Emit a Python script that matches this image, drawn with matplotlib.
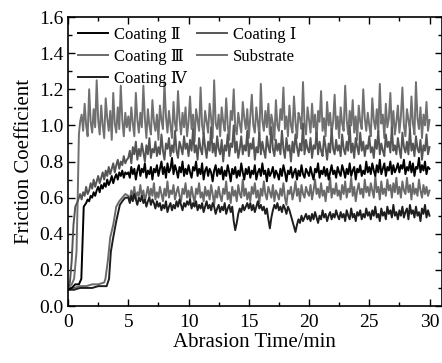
import numpy as np
import matplotlib
matplotlib.use("Agg")
import matplotlib.pyplot as plt
from matplotlib.ticker import MultipleLocator, FormatStrFormatter

plt.rcParams['font.family'] = ['Liberation Serif', 'DejaVu Serif', 'DejaVu Sans']

# ---------------- data ----------------
STEP = 0.125
t_steady = np.arange(5.0, 30.0001, STEP)          # 201 samples, 5..30 min

# Substrate
sub_t_trans = [0, 0.3, 0.5, 0.7, 0.8, 0.9, 1.0]
sub_y_trans = [0.10, 0.12, 0.15, 0.30, 0.60, 0.95, 1.02]
sub_dense_start = 1.125
sub_y_dense = [1.06, 0.97, 1.12, 1.00, 0.94, 1.20, 1.02, 0.96, 1.09, 0.99,
               1.25, 1.03, 0.95, 1.11, 1.00, 0.93, 1.15, 1.04, 0.97, 1.08,
               0.92, 1.18, 1.01, 0.96, 1.10, 0.98, 1.22, 1.03, 0.94, 1.07, 0.99]
sub_y_steady = [
    1.05, 0.97, 1.10, 1.01, 0.94, 1.18, 1.03, 0.96, 1.07, 0.99, 1.22, 1.04, 0.93, 1.09, 1.00, 0.95, 1.14, 1.02, 0.97, 1.06,
    0.92, 1.11, 1.03, 0.98, 1.24, 1.05, 0.96, 1.08, 1.00, 0.93, 1.13, 1.01, 0.97, 1.19, 1.04, 0.95, 1.07, 0.99, 1.10, 0.94,
    1.02, 1.16, 0.98, 1.06, 0.91, 1.09, 1.03, 0.97, 1.21, 1.00, 0.95, 1.08, 1.02, 0.96, 1.12, 1.04, 0.93, 1.25, 1.01, 0.98,
    1.06, 0.94, 1.10, 1.02, 0.97, 1.15, 1.00, 0.92, 1.08, 1.03, 1.20, 0.99, 0.95, 1.07, 1.01, 0.96, 1.13, 1.04, 0.98, 1.09,
    0.93, 1.05, 1.17, 1.00, 0.96, 1.10, 1.02, 0.94, 1.23, 1.03, 0.97, 1.08, 0.99, 1.12, 0.95, 1.06, 1.01, 0.92, 1.14, 1.00,
    0.97, 1.09, 1.03, 1.21, 0.98, 1.05, 0.94, 1.11, 1.00, 0.96, 1.16, 1.02, 0.93, 1.07, 1.04, 0.98, 1.24, 1.01, 0.95, 1.10,
    1.03, 0.96, 1.12, 0.99, 1.06, 0.91, 1.08, 1.02, 1.19, 0.97, 1.04, 0.94, 1.13, 1.00, 1.07, 0.96, 1.02, 1.17, 0.98, 1.05,
    0.93, 1.10, 1.01, 0.97, 1.22, 1.03, 0.95, 1.08, 1.00, 1.14, 0.96, 1.05, 0.92, 1.11, 1.02, 0.98, 1.20, 1.04, 0.97, 1.07,
    1.00, 0.94, 1.15, 1.03, 0.98, 1.09, 0.96, 1.23, 1.01, 1.06, 0.93, 1.12, 0.99, 1.04, 1.18, 0.97, 1.08, 0.95, 1.02, 1.11,
    0.96, 1.05, 1.21, 1.00, 0.94, 1.09, 1.03, 0.97, 1.16, 1.01, 0.95, 1.24, 1.04, 0.98, 1.10, 0.93, 1.06, 1.00, 1.13, 0.97,
    1.03]

# Coating I
c1_t_trans = [0, 0.15, 0.3, 0.45, 0.6, 0.8, 1.0]
c1_y_trans = [0.10, 0.13, 0.25, 0.45, 0.55, 0.58, 0.62]
c1_dense_start = 1.125
c1_y_dense = [0.59, 0.63, 0.61, 0.66, 0.62, 0.64, 0.68, 0.65, 0.70, 0.66,
              0.69, 0.72, 0.68, 0.71, 0.74, 0.70, 0.75, 0.72, 0.77, 0.73,
              0.76, 0.79, 0.74, 0.78, 0.81, 0.76, 0.80, 0.78, 0.83, 0.79, 0.81]
c1_y_steady = [
    0.82, 0.86, 0.79, 0.88, 0.84, 0.91, 0.81, 0.87, 0.83, 0.90, 0.85, 0.80, 0.89, 0.84, 0.93, 0.82, 0.87, 0.85, 0.91, 0.83,
    0.88, 0.84, 0.95, 0.86, 0.81, 0.90, 0.87, 0.93, 0.83, 0.89, 0.85, 0.97, 0.86, 0.82, 0.91, 0.88, 0.84, 0.94, 0.87, 0.90,
    0.83, 0.92, 0.86, 0.98, 0.85, 0.89, 0.81, 0.93, 0.87, 0.84, 0.96, 0.88, 0.82, 0.91, 0.86, 0.99, 0.85, 0.90, 0.83, 0.94,
    0.87, 0.84, 0.92, 0.80, 0.89, 0.86, 0.95, 0.83, 0.90, 0.88, 1.00, 0.85, 0.91, 0.82, 0.87, 0.94, 0.84, 0.89, 0.86, 0.97,
    0.83, 0.90, 0.87, 0.93, 0.81, 0.88, 0.85, 0.96, 0.84, 0.91, 0.86, 0.82, 0.94, 0.88, 0.85, 0.99, 0.87, 0.83, 0.92, 0.86,
    0.90, 0.84, 0.97, 0.87, 0.82, 0.93, 0.86, 0.89, 0.80, 0.91, 0.85, 0.95, 0.88, 0.83, 0.90, 0.86, 1.01, 0.84, 0.92, 0.87,
    0.85, 0.93, 0.82, 0.89, 0.87, 0.96, 0.84, 0.91, 0.86, 0.83, 0.94, 0.88, 0.81, 0.90, 0.85, 0.98, 0.87, 0.84, 0.92, 0.86,
    0.89, 0.83, 0.95, 0.87, 0.84, 0.91, 0.86, 1.00, 0.85, 0.90, 0.82, 0.93, 0.88, 0.84, 0.96, 0.86, 0.91, 0.83, 0.89, 0.87,
    0.94, 0.85, 0.88, 0.82, 0.92, 0.87, 0.97, 0.84, 0.90, 0.86, 0.83, 0.95, 0.88, 0.91, 0.85, 0.99, 0.86, 0.89, 0.84, 0.93,
    0.87, 0.82, 0.96, 0.88, 0.85, 0.91, 0.84, 0.98, 0.86, 0.90, 0.83, 0.94, 0.87, 0.85, 0.92, 0.81, 0.89, 0.86, 0.95, 0.84,
    0.88]

# Coating II
c2_t_trans = [0, 0.3, 0.6, 0.9, 1.1, 1.2, 1.3, 1.4]
c2_y_trans = [0.09, 0.10, 0.12, 0.12, 0.15, 0.35, 0.55, 0.56]
c2_dense_start = 1.5
c2_y_dense = [0.57, 0.59, 0.58, 0.61, 0.60, 0.63, 0.61, 0.64, 0.66, 0.63,
              0.67, 0.65, 0.68, 0.66, 0.70, 0.67, 0.69, 0.72, 0.68, 0.71,
              0.73, 0.70, 0.74, 0.72, 0.75, 0.71, 0.74, 0.73]
c2_y_steady = [
    0.74, 0.71, 0.77, 0.73, 0.76, 0.70, 0.75, 0.78, 0.72, 0.76, 0.74, 0.79, 0.71, 0.75, 0.73, 0.77, 0.70, 0.76, 0.74, 0.78,
    0.72, 0.76, 0.80, 0.73, 0.77, 0.71, 0.79, 0.74, 0.76, 0.82, 0.73, 0.78, 0.75, 0.71, 0.77, 0.74, 0.80, 0.72, 0.76, 0.73,
    0.78, 0.74, 0.71, 0.77, 0.75, 0.80, 0.72, 0.76, 0.73, 0.79, 0.70, 0.75, 0.77, 0.72, 0.76, 0.74, 0.69, 0.75, 0.78, 0.72,
    0.76, 0.73, 0.77, 0.70, 0.75, 0.72, 0.78, 0.74, 0.69, 0.76, 0.73, 0.77, 0.71, 0.75, 0.72, 0.79, 0.74, 0.70, 0.76, 0.73,
    0.77, 0.71, 0.75, 0.73, 0.78, 0.70, 0.74, 0.76, 0.72, 0.79, 0.73, 0.75, 0.69, 0.76, 0.72, 0.74, 0.77, 0.71, 0.75, 0.73,
    0.70, 0.76, 0.72, 0.78, 0.74, 0.69, 0.75, 0.73, 0.77, 0.71, 0.74, 0.76, 0.70, 0.75, 0.72, 0.78, 0.73, 0.71, 0.76, 0.74,
    0.72, 0.77, 0.73, 0.70, 0.76, 0.74, 0.79, 0.71, 0.75, 0.73, 0.77, 0.72, 0.76, 0.70, 0.74, 0.78, 0.73, 0.75, 0.71, 0.77,
    0.74, 0.72, 0.78, 0.75, 0.71, 0.76, 0.73, 0.79, 0.72, 0.75, 0.77, 0.70, 0.76, 0.74, 0.78, 0.72, 0.75, 0.73, 0.80, 0.74,
    0.77, 0.73, 0.79, 0.75, 0.72, 0.78, 0.74, 0.81, 0.73, 0.76, 0.79, 0.72, 0.77, 0.75, 0.80, 0.73, 0.78, 0.74, 0.76, 0.79,
    0.74, 0.78, 0.76, 0.81, 0.73, 0.77, 0.75, 0.80, 0.74, 0.79, 0.72, 0.77, 0.76, 0.82, 0.74, 0.78, 0.75, 0.80, 0.73, 0.77,
    0.76]

# Coating III
c3_t_trans = [0, 0.5, 1.0, 1.5, 2.0, 2.5, 3.0, 3.1, 3.3, 3.5, 3.75, 4.0, 4.25, 4.5, 4.75]
c3_y_trans = [0.10, 0.10, 0.11, 0.11, 0.12, 0.12, 0.13, 0.15, 0.25, 0.38, 0.45, 0.55, 0.58,
              0.60, 0.62]
c3_y_steady = [
    0.61, 0.58, 0.64, 0.60, 0.66, 0.59, 0.63, 0.61, 0.67, 0.60, 0.64, 0.58, 0.62, 0.66, 0.60, 0.65, 0.61, 0.68, 0.59, 0.63,
    0.60, 0.66, 0.62, 0.58, 0.65, 0.61, 0.69, 0.60, 0.64, 0.62, 0.67, 0.59, 0.63, 0.66, 0.61, 0.58, 0.65, 0.62, 0.68, 0.60,
    0.64, 0.59, 0.66, 0.61, 0.57, 0.65, 0.62, 0.68, 0.60, 0.63, 0.58, 0.66, 0.61, 0.64, 0.59, 0.67, 0.62, 0.56, 0.64, 0.60,
    0.66, 0.61, 0.58, 0.65, 0.62, 0.69, 0.59, 0.63, 0.57, 0.66, 0.61, 0.64, 0.58, 0.67, 0.62, 0.60, 0.70, 0.61, 0.65, 0.59,
    0.63, 0.58, 0.66, 0.62, 0.68, 0.60, 0.64, 0.57, 0.65, 0.61, 0.69, 0.62, 0.59, 0.66, 0.63, 0.60, 0.67, 0.58, 0.64, 0.62,
    0.59, 0.65, 0.61, 0.68, 0.60, 0.56, 0.64, 0.62, 0.66, 0.59, 0.63, 0.69, 0.61, 0.65, 0.58, 0.67, 0.62, 0.60, 0.66, 0.63,
    0.61, 0.67, 0.59, 0.64, 0.70, 0.62, 0.65, 0.60, 0.68, 0.61, 0.64, 0.58, 0.66, 0.63, 0.71, 0.60, 0.65, 0.62, 0.68, 0.61,
    0.64, 0.59, 0.67, 0.62, 0.69, 0.60, 0.65, 0.63, 0.71, 0.61, 0.66, 0.58, 0.64, 0.68, 0.62, 0.65, 0.60, 0.70, 0.63, 0.66,
    0.61, 0.68, 0.64, 0.60, 0.72, 0.63, 0.66, 0.59, 0.69, 0.62, 0.65, 0.61, 0.70, 0.64, 0.67, 0.60, 0.68, 0.63, 0.71, 0.62,
    0.66, 0.60, 0.69, 0.64, 0.62, 0.71, 0.63, 0.67, 0.59, 0.68, 0.62, 0.65, 0.61, 0.70, 0.64, 0.60, 0.67, 0.62, 0.66, 0.61,
    0.64]

# Coating IV
c4_t_trans = [0, 0.5, 1.0, 1.5, 2.0, 2.5, 3.0, 3.2, 3.4, 3.55, 3.75, 4.0, 4.3, 4.5, 4.75]
c4_y_trans = [0.09, 0.09, 0.10, 0.10, 0.10, 0.11, 0.11, 0.11, 0.15, 0.30, 0.38, 0.47, 0.56,
              0.58, 0.60]
c4_y_steady = [
    0.60, 0.57, 0.61, 0.58, 0.62, 0.59, 0.56, 0.60, 0.58, 0.61, 0.57, 0.59, 0.55, 0.58, 0.60, 0.56, 0.59, 0.57, 0.54, 0.58,
    0.55, 0.57, 0.53, 0.56, 0.54, 0.58, 0.52, 0.55, 0.57, 0.53, 0.56, 0.54, 0.58, 0.55, 0.59, 0.56, 0.53, 0.57, 0.55, 0.58,
    0.56, 0.59, 0.54, 0.57, 0.55, 0.58, 0.53, 0.56, 0.54, 0.57, 0.52, 0.55, 0.58, 0.54, 0.56, 0.53, 0.57, 0.55, 0.51, 0.54,
    0.56, 0.52, 0.55, 0.53, 0.57, 0.51, 0.54, 0.56, 0.52, 0.55, 0.47, 0.42, 0.46, 0.51, 0.54, 0.52, 0.56, 0.53, 0.55, 0.57,
    0.54, 0.57, 0.53, 0.56, 0.52, 0.55, 0.58, 0.54, 0.56, 0.53, 0.55, 0.51, 0.54, 0.48, 0.43, 0.49, 0.53, 0.56, 0.54, 0.57,
    0.53, 0.55, 0.52, 0.56, 0.54, 0.51, 0.55, 0.53, 0.50, 0.47, 0.44, 0.41, 0.45, 0.48, 0.46, 0.50, 0.47, 0.49, 0.51, 0.48,
    0.50, 0.47, 0.51, 0.48, 0.52, 0.49, 0.46, 0.50, 0.48, 0.53, 0.49, 0.51, 0.47, 0.50, 0.52, 0.48, 0.51, 0.49, 0.53, 0.50,
    0.48, 0.52, 0.49, 0.51, 0.47, 0.53, 0.50, 0.48, 0.54, 0.49, 0.51, 0.47, 0.52, 0.50, 0.53, 0.48, 0.51, 0.49, 0.54, 0.50,
    0.52, 0.48, 0.53, 0.50, 0.55, 0.49, 0.51, 0.47, 0.54, 0.50, 0.52, 0.48, 0.55, 0.51, 0.53, 0.49, 0.56, 0.50, 0.52, 0.48,
    0.53, 0.50, 0.55, 0.49, 0.52, 0.54, 0.48, 0.56, 0.51, 0.53, 0.49, 0.55, 0.50, 0.52, 0.47, 0.54, 0.51, 0.56, 0.49, 0.53,
    0.50]

labels = ["Coating \u2161", "Coating \u2162", "Coating \u2163", "Coating \u2160", "Substrate"]

# ---------------- figure ----------------
fig = plt.figure(figsize=(4.42, 3.63), dpi=100)
ax = fig.add_axes([0.154, 0.157, 0.845, 0.796])


def build(t_trans, y_trans, y_steady, dense_start=None, y_dense=None):
    ts, ys = [np.asarray(t_trans, float)], [np.asarray(y_trans, float)]
    if y_dense is not None:
        ts.append(dense_start + STEP * np.arange(len(y_dense)))
        ys.append(np.asarray(y_dense, float))
    ts.append(t_steady)
    ys.append(np.asarray(y_steady, float))
    return np.concatenate(ts), np.concatenate(ys)


lw = 1.4
x, y = build(sub_t_trans, sub_y_trans, sub_y_steady, sub_dense_start, sub_y_dense)
l_sub, = ax.plot(x, y, color='#707070', lw=lw)
x, y = build(c1_t_trans, c1_y_trans, c1_y_steady, c1_dense_start, c1_y_dense)
l_c1, = ax.plot(x, y, color='#555555', lw=lw)
x, y = build(c3_t_trans, c3_y_trans, c3_y_steady)
l_c3, = ax.plot(x, y, color='#6a6a6a', lw=lw)
x, y = build(c4_t_trans, c4_y_trans, c4_y_steady)
l_c4, = ax.plot(x, y, color='#1e1e1e', lw=lw)
x, y = build(c2_t_trans, c2_y_trans, c2_y_steady, c2_dense_start, c2_y_dense)
l_c2, = ax.plot(x, y, color='#000000', lw=lw)

ax.set_xlim(0, 31)
ax.set_ylim(0, 1.6)
ax.xaxis.set_major_locator(MultipleLocator(5))
ax.xaxis.set_minor_locator(MultipleLocator(2.5))
ax.yaxis.set_major_locator(MultipleLocator(0.2))
ax.yaxis.set_minor_locator(MultipleLocator(0.1))
ax.yaxis.set_major_formatter(FormatStrFormatter('%.1f'))
ax.tick_params(which='both', direction='in', top=True, right=True, labelsize=14, width=1.0)
ax.tick_params(which='major', length=5)
ax.tick_params(which='minor', length=3)
ax.tick_params(axis='x', pad=6)
ax.tick_params(axis='y', pad=3)
for s in ax.spines.values():
    s.set_linewidth(1.2)

ax.set_xlabel("Abrasion Time/min", fontsize=15, labelpad=1)
ax.set_ylabel("Friction Coefficient", fontsize=15, labelpad=4)

ax.legend([l_c2, l_c3, l_c4, l_c1, l_sub], labels, ncol=2, loc='upper left',
          frameon=False, fontsize=12, handlelength=1.8, handletextpad=0.35,
          columnspacing=0.6, labelspacing=0.35, borderaxespad=0.2,
          bbox_to_anchor=(0.0, 1.0))

fig.savefig("out.png", dpi=100)
